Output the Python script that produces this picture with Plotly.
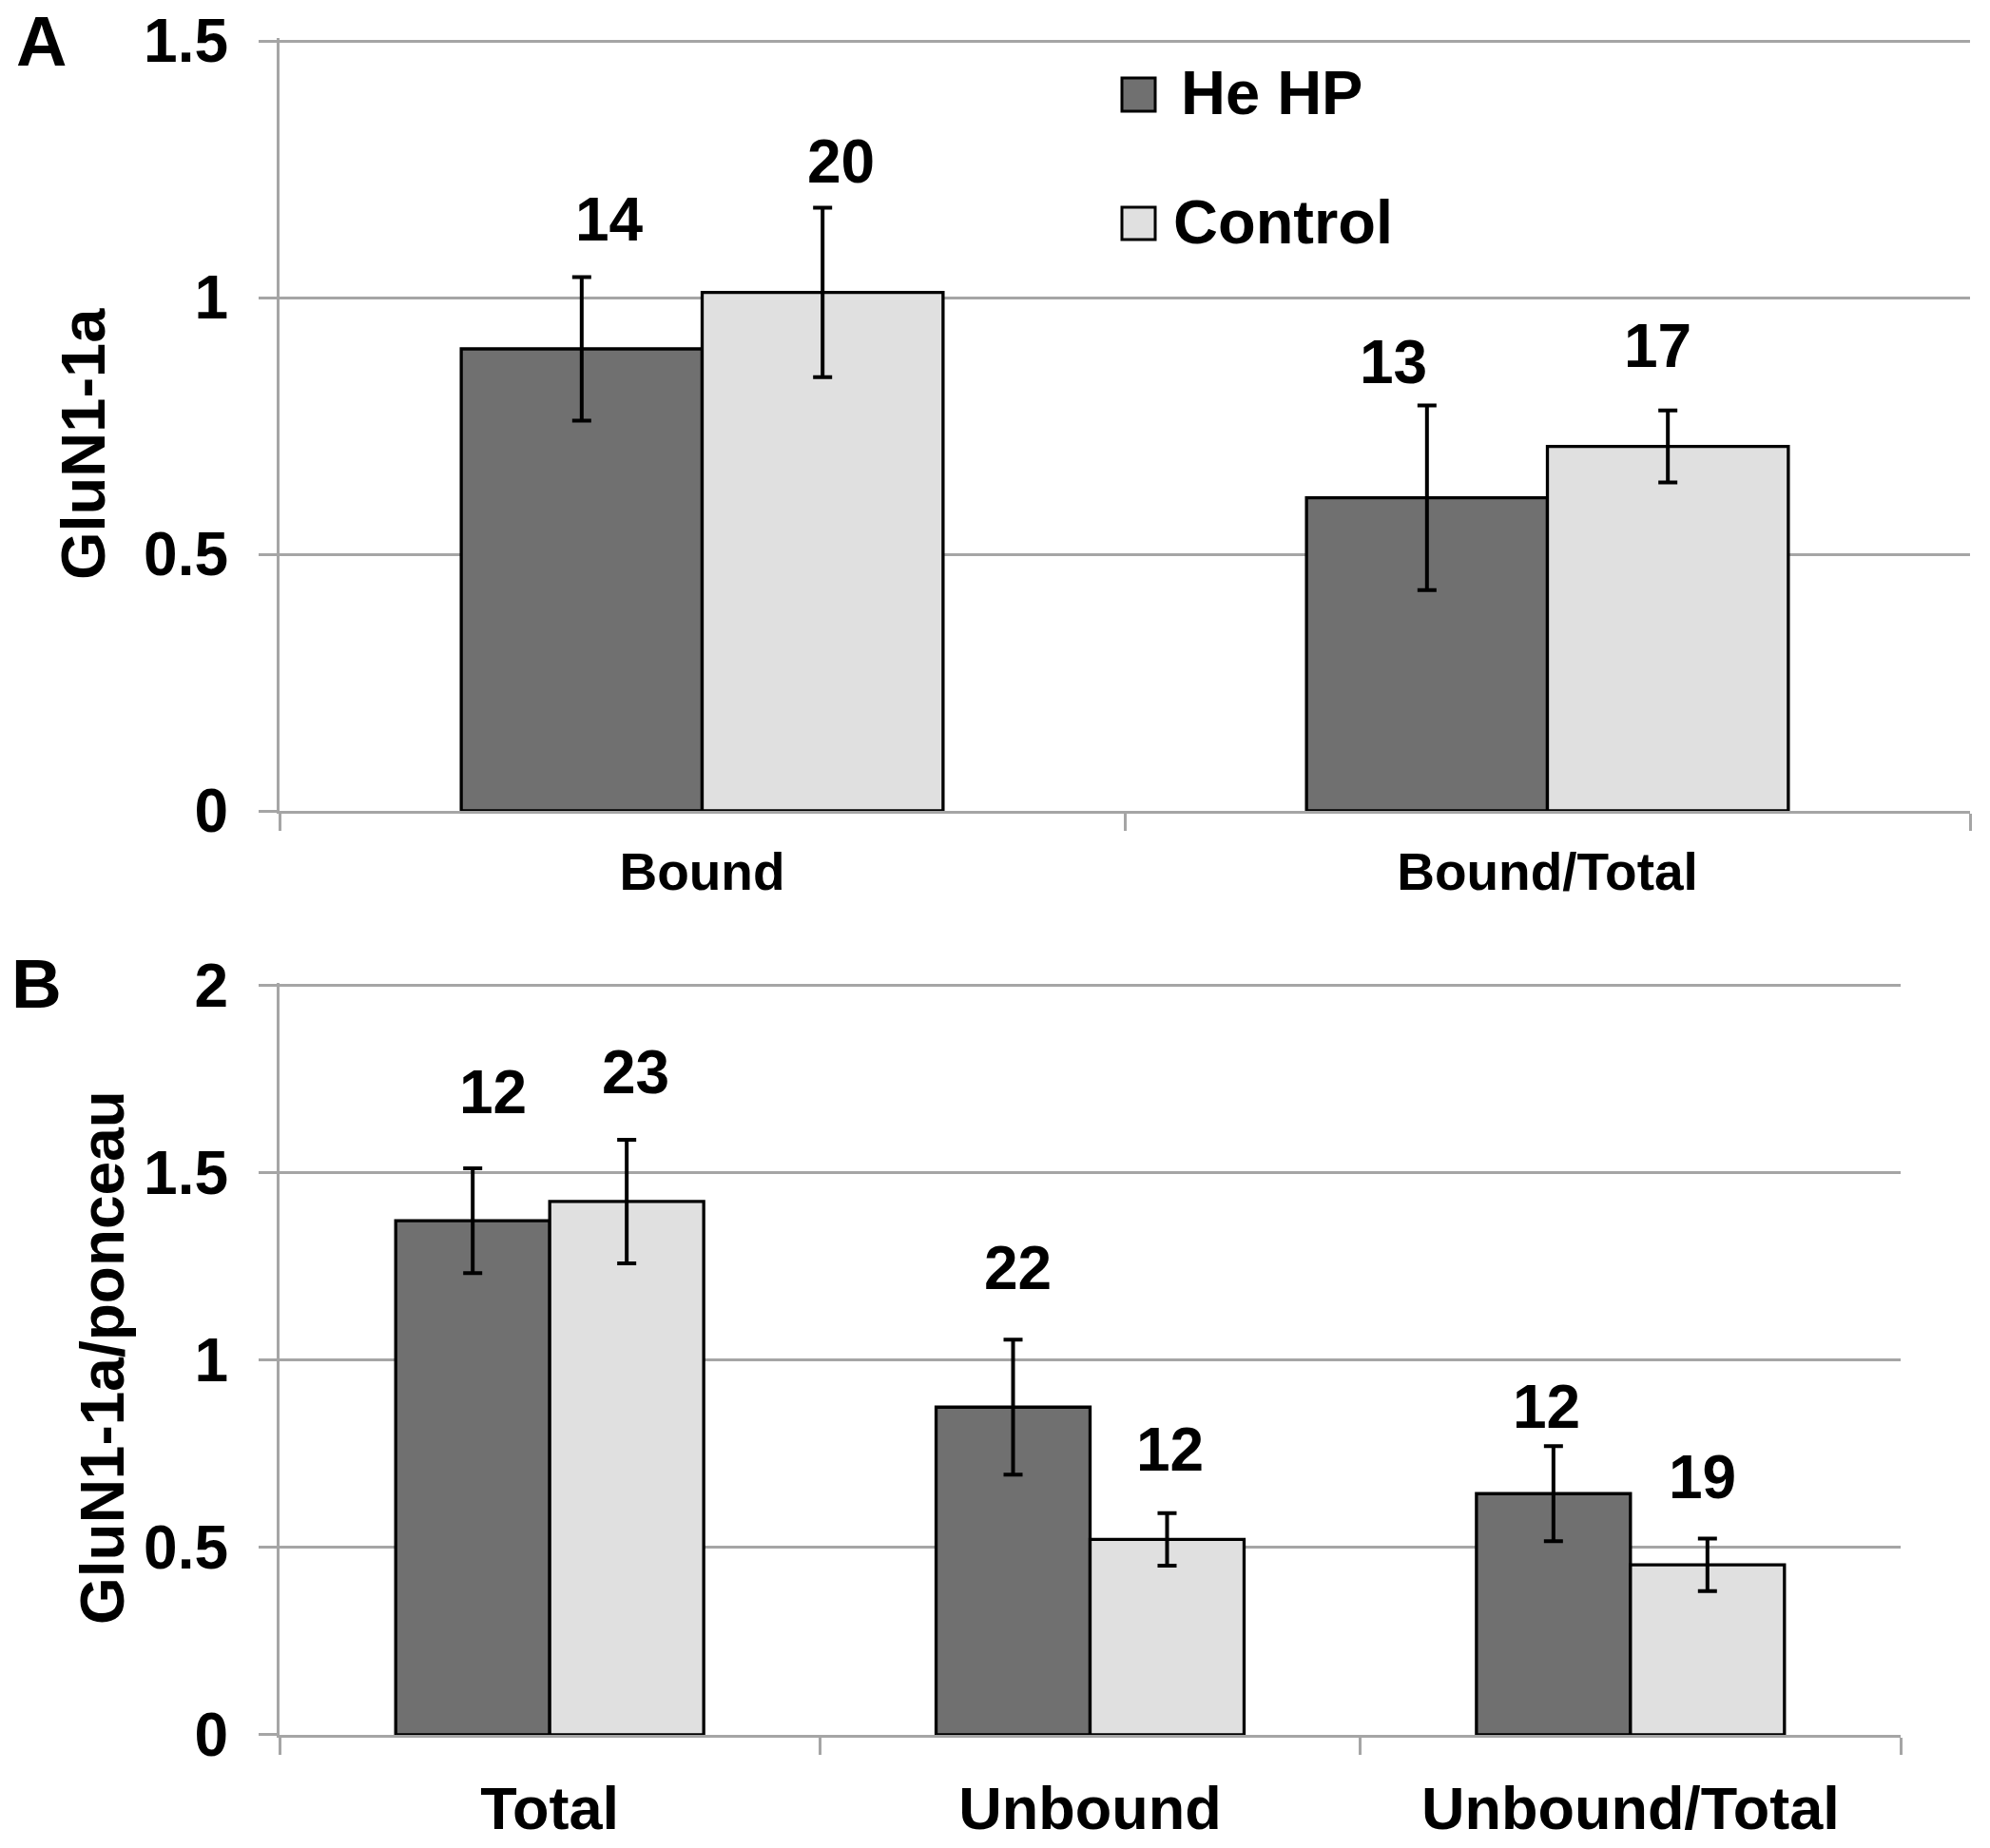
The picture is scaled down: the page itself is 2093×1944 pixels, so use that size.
import plotly.graph_objects as go

W, H = 2093, 1944

# ---------------- data ----------------
series_names = ["He HP", "Control"]

cats_a = ["Bound", "Bound/Total"]
hehp_a = [0.90, 0.61]
hehp_a_err = [0.14, 0.18]
ctrl_a = [1.01, 0.71]
ctrl_a_err = [0.165, 0.07]
n_hehp_a = ["14", "13"]
n_ctrl_a = ["20", "17"]

cats_b = ["Total", "Unbound", "Unbound/Total"]
hehp_b = [1.373, 0.875, 0.644]
hehp_b_err = [0.14, 0.18, 0.127]
ctrl_b = [1.424, 0.522, 0.454]
ctrl_b_err = [0.165, 0.07, 0.07]
n_hehp_b = ["12", "22", "12"]
n_ctrl_b = ["23", "12", "19"]

yticks_a = [0, 0.5, 1, 1.5]
yticklabels_a = ["0", "0.5", "1", "1.5"]
yticks_b = [0, 0.5, 1, 1.5, 2]
yticklabels_b = ["0", "0.5", "1", "1.5", "2"]

# ---------------- style ----------------
DARK = "#707070"
LIGHT = "#e0e0e0"
GRID = "#a5a5a5"
FONT = "Liberation Sans, Arial, sans-serif"
BARGAP = 0.43


def px(x):
    return x / W


def py(y):
    return 1 - y / H


# plot areas in pixels: left, right, pixel of top gridline, pixel of zero line
A_L, A_R, A_TOP, A_ZERO = 294, 2072, 43, 853
B_L, B_R, B_TOP, B_ZERO = 294, 1999, 1037, 1825
A_MAX, B_MAX = yticks_a[-1], yticks_b[-1]
PAD = 0.004  # small range headroom so the top gridline is not clipped


def y_domain(top_px, zero_px, vmax):
    ppu = (zero_px - top_px) / vmax
    rng_top = vmax * (1 + PAD)
    dom_top = top_px - (rng_top - vmax) * ppu
    return [py(zero_px), py(dom_top)], [0, rng_top]


xA = [px(A_L), px(A_R)]
xB = [px(B_L), px(B_R)]
yA, rA = y_domain(A_TOP, A_ZERO, A_MAX)
yB, rB = y_domain(B_TOP, B_ZERO, B_MAX)

# small manual nudges of the n labels (pixels), as in the original figure
nudge_a = {"h": [(29, 60), (-35, 45)], "c": [(19, 48), (-11, 68)]}
nudge_b = {"h": [(21, 80), (5, 75), (-7, 41)], "c": [(9, 71), (3, 67), (-5, 65)]}

fig = go.Figure()


def add_bars(cats, vals, errs, color, name, xa, ya, group):
    fig.add_trace(go.Bar(
        x=cats, y=vals, name=name, xaxis=xa, yaxis=ya, offsetgroup=group,
        marker=dict(color=color, line=dict(color="black", width=3.3)),
        error_y=dict(type="data", array=errs, visible=True, color="black",
                     thickness=4, width=10),
        showlegend=False,
    ))


add_bars(cats_a, hehp_a, hehp_a_err, DARK, series_names[0], "x", "y", "h")
add_bars(cats_a, ctrl_a, ctrl_a_err, LIGHT, series_names[1], "x", "y", "c")
add_bars(cats_b, hehp_b, hehp_b_err, DARK, series_names[0], "x2", "y2", "h")
add_bars(cats_b, ctrl_b, ctrl_b_err, LIGHT, series_names[1], "x2", "y2", "c")

annotations = []


def bold(s):
    return dict(family=FONT, size=s, color="black", weight="bold")


def add_n_labels(cats, vals, errs, labels, xdom, side, nudges, xref, yref):
    plotw = (xdom[1] - xdom[0]) * W
    catw = plotw / len(cats)
    barw = catw * (1 - BARGAP) / 2
    for j, c in enumerate(cats):
        dx, dy = nudges[j]
        annotations.append(dict(
            x=c, y=vals[j] + errs[j], xref=xref, yref=yref,
            text=labels[j], showarrow=False, xanchor="center", yanchor="middle",
            xshift=side * barw / 2 + dx, yshift=dy, font=bold(64),
        ))


add_n_labels(cats_a, hehp_a, hehp_a_err, n_hehp_a, xA, -1, nudge_a["h"], "x", "y")
add_n_labels(cats_a, ctrl_a, ctrl_a_err, n_ctrl_a, xA, 1, nudge_a["c"], "x", "y")
add_n_labels(cats_b, hehp_b, hehp_b_err, n_hehp_b, xB, -1, nudge_b["h"], "x2", "y2")
add_n_labels(cats_b, ctrl_b, ctrl_b_err, n_ctrl_b, xB, 1, nudge_b["c"], "x2", "y2")

# axis titles, panel letters, legend text
annotations += [
    dict(x=px(87), y=py(467), xref="paper", yref="paper", text="GluN1-1a",
         textangle=-90, showarrow=False, xanchor="center", yanchor="middle", font=bold(65)),
    dict(x=px(108), y=py(1428), xref="paper", yref="paper", text="GluN1-1a/ponceau",
         textangle=-90, showarrow=False, xanchor="center", yanchor="middle", font=bold(64)),
    dict(x=px(43), y=py(44), xref="paper", yref="paper", text="A",
         showarrow=False, xanchor="center", yanchor="middle", font=bold(74)),
    dict(x=px(38), y=py(1034), xref="paper", yref="paper", text="B",
         showarrow=False, xanchor="center", yanchor="middle", font=bold(73)),
    dict(x=px(1240), y=py(97), xref="paper", yref="paper", text=series_names[0],
         showarrow=False, xanchor="left", yanchor="middle", font=bold(65)),
    dict(x=px(1232), y=py(234), xref="paper", yref="paper", text=series_names[1],
         showarrow=False, xanchor="left", yanchor="middle", font=bold(65)),
]

shapes = [
    dict(type="rect", xref="paper", yref="paper", x0=px(1180), x1=px(1215),
         y0=py(117), y1=py(82), fillcolor=DARK, line=dict(color="black", width=3)),
    dict(type="rect", xref="paper", yref="paper", x0=px(1180), x1=px(1215),
         y0=py(252), y1=py(218), fillcolor=LIGHT, line=dict(color="black", width=3)),
]

xaxis_common = dict(
    type="category", showgrid=False, showline=True, linecolor=GRID, linewidth=3.3,
    ticks="outside", tickson="boundaries", ticklen=18, tickwidth=3.3, tickcolor=GRID,
    zeroline=False, automargin=False,
)
yaxis_common = dict(
    showgrid=True, gridcolor=GRID, gridwidth=3.3, showline=True, linecolor=GRID,
    linewidth=3.3, ticks="outside", ticklen=19, tickwidth=3.3, tickcolor=GRID,
    zeroline=False, automargin=False, tickfont=bold(64), ticklabelstandoff=19,
    ticklabeloverflow="allow",
)

fig.update_layout(
    width=W, height=H, margin=dict(l=0, r=0, t=0, b=0),
    paper_bgcolor="white", plot_bgcolor="white",
    barmode="group", bargap=BARGAP, bargroupgap=0,
    showlegend=False,
    xaxis=dict(domain=xA, anchor="y", tickfont=bold(55), ticklabelstandoff=14,
               **xaxis_common),
    yaxis=dict(domain=yA, anchor="x", range=rA, tickvals=yticks_a,
               ticktext=yticklabels_a, **yaxis_common),
    xaxis2=dict(domain=xB, anchor="y2", tickfont=bold(63), ticklabelstandoff=20,
                **xaxis_common),
    yaxis2=dict(domain=yB, anchor="x2", range=rB, tickvals=yticks_b,
                ticktext=yticklabels_b, **yaxis_common),
    annotations=annotations,
    shapes=shapes,
)

fig.write_html("out.html", config={"displayModeBar": False},
               post_script="document.body.style.margin='0px';")
